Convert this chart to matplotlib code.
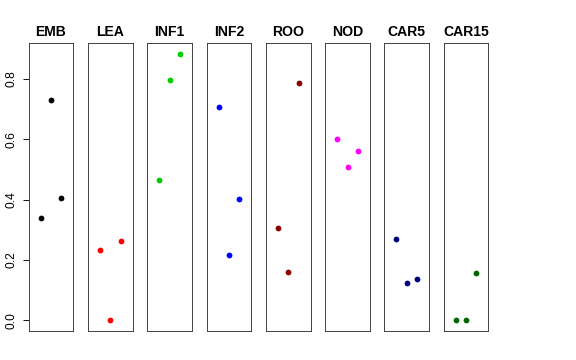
import matplotlib
matplotlib.use("Agg")
import matplotlib.pyplot as plt

# ==========================
# DATA
# ==========================

groups = ["EMB", "LEA", "INF1", "INF2", "ROO", "NOD", "CAR5", "CAR15"]
colors = ["black", "#FF0000", "#00CD00", "#0000FF",
          "#8B0000", "#FF00FF", "#000080", "#006400"]

values = [
    [0.339, 0.729, 0.405],
    [0.233, 0.000, 0.263],
    [0.466, 0.797, 0.884],
    [0.707, 0.218, 0.401],
    [0.305, 0.161, 0.788],
    [0.602, 0.509, 0.560],
    [0.269, 0.125, 0.137],
    [0.000, 0.000, 0.158],
]

y_ticks = [0.0, 0.2, 0.4, 0.6, 0.8]

# ==========================
# LAYOUT
# ==========================

W, H = 576, 360
fig = plt.figure(figsize=(W / 72, H / 72), dpi=72)
plt.rcParams["font.family"] = ["Liberation Sans", "DejaVu Sans"]

left0 = 28.7
panel_w = 44.6
step = 59.3
top_px = 42.7
bot_px = 331.0

ymin, ymax = 0.0, 0.885
ypad = 0.04 * (ymax - ymin)

for i, (name, col, vals) in enumerate(zip(groups, colors, values)):

    x0 = left0 + i * step
    ax = fig.add_axes([x0 / W, 1 - bot_px / H,
                       panel_w / W, (bot_px - top_px) / H])

    xs = list(range(1, len(vals) + 1))
    ax.plot(xs, vals, "o", color=col, markersize=5.8,
            markeredgewidth=0)

    ax.set_xlim(0 - 0.16, 4 + 0.16)
    ax.set_ylim(ymin - ypad, ymax + ypad)
    ax.set_xticks([])

    for s in ax.spines.values():
        s.set_linewidth(0.9)
        s.set_color("#333333")

    ax.set_title(name, fontsize=14, fontweight="bold", pad=7)

    if i == 0:
        ax.set_yticks(y_ticks)
        ax.set_yticklabels([f"{t:.1f}" for t in y_ticks],
                           rotation=90, va="center", fontsize=12)
        ax.tick_params(axis="y", length=6.5, width=0.9, pad=5)
    else:
        ax.set_yticks([])

fig.savefig("out.png", dpi=72)
